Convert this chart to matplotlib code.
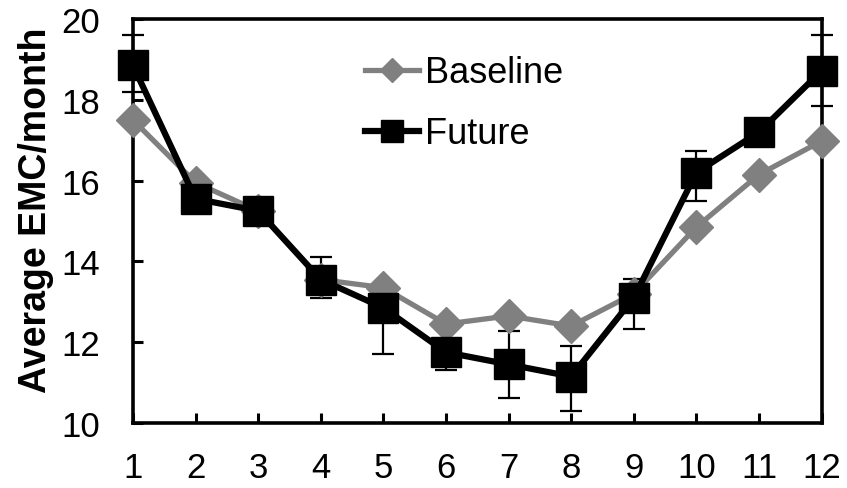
import matplotlib
matplotlib.use("Agg")
import matplotlib.pyplot as plt

months = [1, 2, 3, 4, 5, 6, 7, 8, 9, 10, 11, 12]
baseline = [17.5, 15.95, 15.25, 13.55, 13.35, 12.45, 12.65, 12.4, 13.2, 14.85, 16.15, 16.98]
future = [18.85, 15.55, 15.25, 13.55, 12.85, 11.75, 11.45, 11.15, 13.1, 16.2, 17.2, 18.72]
future_lo = [18.2, 15.3, 15.0, 13.1, 11.7, 11.3, 10.62, 10.3, 12.33, 15.5, 17.0, 17.85]
future_hi = [19.6, 15.8, 15.5, 14.1, 13.0, 11.9, 12.28, 11.9, 13.56, 16.73, 17.4, 19.6]

plt.rcParams["font.family"] = ["Liberation Sans", "DejaVu Sans"]

fig = plt.figure(figsize=(8.47, 4.89), dpi=100)
ax = fig.add_axes([0.157, 0.133, 0.813, 0.826])

err = [[f - lo for f, lo in zip(future, future_lo)],
       [hi - f for f, hi in zip(future, future_hi)]]
ax.errorbar(months, future, yerr=err, fmt="none", ecolor="black",
            elinewidth=1.6, capsize=8, capthick=1.6, zorder=2, clip_on=False)
ax.plot(months, baseline, color="#808080", linewidth=3.8, marker="D",
        markersize=17, label="Baseline", zorder=3, clip_on=False)
ax.plot(months, future, color="black", linewidth=4.5, marker="s",
        markersize=22, label="Future", zorder=4, clip_on=False)

ax.set_xlim(1, 12)
ax.set_ylim(10, 20)
ax.set_xticks(months)
ax.set_yticks([10, 12, 14, 16, 18, 20])
ax.tick_params(direction="in", length=7, width=2.2, labelsize=25)
ax.tick_params(axis="x", pad=20)
ax.tick_params(axis="y", pad=24)
for s in ax.spines.values():
    s.set_linewidth(2.6)
ax.set_ylabel("Average EMC/month", fontsize=27, fontweight="bold")
ax.yaxis.set_label_coords(-0.114, 0.53)

ax.legend(loc="upper left", bbox_to_anchor=(0.337, 0.91), frameon=False,
          fontsize=26, handlelength=1.5, labelspacing=0.72, handletextpad=0.15,
          borderpad=0, borderaxespad=0, markerscale=0.7)

fig.savefig("out.png", dpi=100)
